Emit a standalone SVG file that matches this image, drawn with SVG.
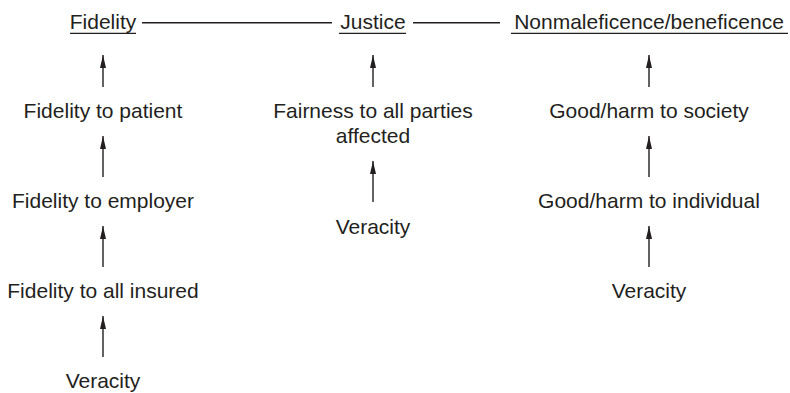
<svg xmlns="http://www.w3.org/2000/svg" width="790" height="393" viewBox="0 0 790 393">
  <style>
    .lbl { font-family: "Liberation Sans", Arial, sans-serif; font-size: 21px; fill: #231f20; text-anchor: middle; }
    .ul { stroke: #231f20; stroke-width: 1.2; }
    .conn line { stroke: #231f20; stroke-width: 1.4; fill: none; }
    .up { marker-end: url(#head); }
  </style>
  <defs>
    <marker id="head" viewBox="0 0 13 6" refX="13" refY="3" markerWidth="13" markerHeight="6" markerUnits="userSpaceOnUse" orient="auto">
      <path d="M0,0 L13,3 L0,6 z" fill="#231f20"/>
    </marker>
  </defs>
  <rect width="790" height="393" fill="#ffffff"/>

  <!-- principles (top row) -->
  <g id="fidelity">
    <text class="lbl" x="103" y="29">Fidelity</text>
    <line class="ul" x1="70" y1="33.3" x2="136" y2="33.3"/>
  </g>
  <g id="justice">
    <text class="lbl" x="373" y="29">Justice</text>
    <line class="ul" x1="339" y1="33.3" x2="406" y2="33.3"/>
  </g>
  <g id="nonmaleficence">
    <text class="lbl" x="649" y="29">Nonmaleficence/beneficence</text>
    <line class="ul" x1="511" y1="33.3" x2="788" y2="33.3"/>
  </g>

  <!-- fidelity column -->
  <g id="fidelity-patient"><text class="lbl" x="103" y="118">Fidelity to patient</text></g>
  <g id="fidelity-employer"><text class="lbl" x="103" y="208">Fidelity to employer</text></g>
  <g id="fidelity-insured"><text class="lbl" x="103" y="297.5">Fidelity to all insured</text></g>
  <g id="veracity-1"><text class="lbl" x="103" y="388">Veracity</text></g>

  <!-- justice column -->
  <g id="fairness">
    <text class="lbl" x="373" y="118">Fairness to all parties</text>
    <text class="lbl" x="373" y="142.5">affected</text>
  </g>
  <g id="veracity-2"><text class="lbl" x="373" y="234">Veracity</text></g>

  <!-- nonmaleficence column -->
  <g id="good-society"><text class="lbl" x="649" y="118">Good/harm to society</text></g>
  <g id="good-individual"><text class="lbl" x="649" y="208">Good/harm to individual</text></g>
  <g id="veracity-3"><text class="lbl" x="649" y="297.5">Veracity</text></g>

  <!-- connectors -->
  <g id="connectors" class="conn">
    <line x1="142" y1="22.7" x2="332" y2="22.7"/>
    <line x1="413" y1="22.7" x2="500" y2="22.7"/>

    <line class="up" x1="103" y1="87" x2="103" y2="55"/>
    <line class="up" x1="103" y1="177" x2="103" y2="136"/>
    <line class="up" x1="103" y1="267" x2="103" y2="226"/>
    <line class="up" x1="103" y1="357" x2="103" y2="316"/>

    <line class="up" x1="373" y1="87" x2="373" y2="55"/>
    <line class="up" x1="373" y1="202" x2="373" y2="161"/>

    <line class="up" x1="649" y1="87" x2="649" y2="55"/>
    <line class="up" x1="649" y1="177" x2="649" y2="136"/>
    <line class="up" x1="649" y1="267" x2="649" y2="226"/>
  </g>
</svg>
